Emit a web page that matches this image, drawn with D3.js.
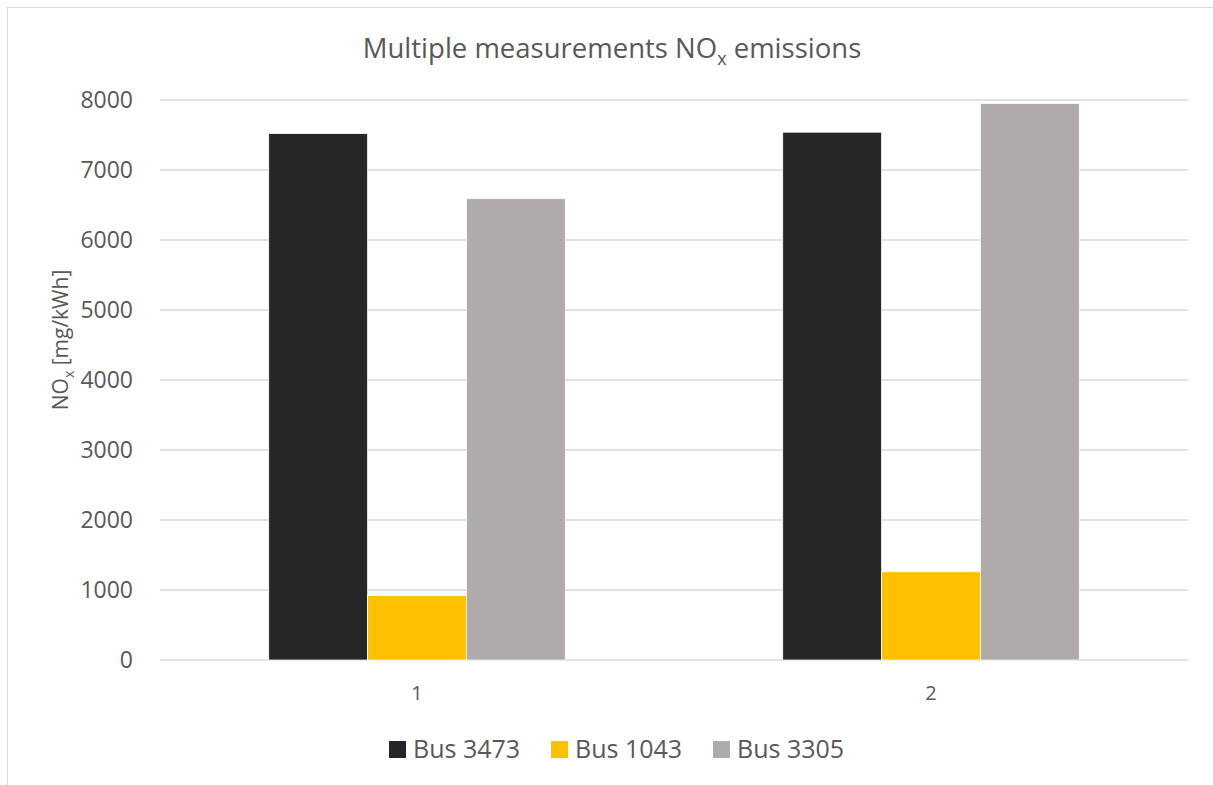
<!DOCTYPE html>
<html>
<head>
<meta charset="utf-8">
<script src="https://cdn.jsdelivr.net/npm/d3@7"></script>
<style>
  body { margin: 0; background: #fff; }
  svg text { font-family: "Open Sans", "DejaVu Sans", sans-serif; fill: #595959; }
</style>
</head>
<body>
<div id="chart"></div>
<script>
// data
const categories = ["1", "2"];
const seriesNames = ["Bus 3473", "Bus 1043", "Bus 3305"];
const seriesColors = ["#262626", "#ffc000", "#afabab"];
const bus3473 = [7520, 7540];
const bus1043 = [920, 1260];
const bus3305 = [6590, 7950];
const yTicks = [0, 1000, 2000, 3000, 4000, 5000, 6000, 7000, 8000];

const seriesValues = [bus3473, bus1043, bus3305];

const W = 1213, H = 785;
const margin = { top: 100, right: 25, bottom: 125, left: 160 };
const width = 1188 - margin.left;
const height = 660 - margin.top;

const svg = d3.select("#chart").append("svg")
    .attr("width", W)
    .attr("height", H);

// outer chart frame (runs off the right / bottom edge)
svg.append("rect")
    .attr("x", 7.5).attr("y", 7.5)
    .attr("width", W + 20).attr("height", H + 20)
    .attr("fill", "none")
    .attr("stroke", "#d9d9d9")
    .attr("stroke-width", 1);

const g = svg.append("g")
    .attr("transform", `translate(${margin.left},${margin.top})`);

const x0 = d3.scaleBand().domain(categories).range([0, width]);
// bars take about 297 of each 515 px band
const x1 = d3.scaleBand().domain(seriesNames).range([0, x0.bandwidth()]).paddingOuter(1.1);
const y = d3.scaleLinear().domain([0, 8000]).range([height, 0]);

// gridlines
g.append("g")
    .selectAll("line")
    .data(yTicks)
    .join("line")
    .attr("x1", 0).attr("x2", width)
    .attr("y1", d => y(d)).attr("y2", d => y(d))
    .attr("stroke", "#d9d9d9")
    .attr("stroke-width", 1.3);

// y tick labels
g.append("g")
    .selectAll("text")
    .data(yTicks)
    .join("text")
    .attr("x", -27)
    .attr("y", d => y(d))
    .attr("dy", "0.35em")
    .attr("text-anchor", "end")
    .style("font-size", "23px")
    .text(d => d);

// bars
const groups = g.selectAll(".cat")
    .data(categories)
    .join("g")
    .attr("class", "cat")
    .attr("transform", d => `translate(${x0(d)},0)`);

groups.selectAll("rect")
    .data((d, i) => seriesNames.map((s, j) => ({ s, j, v: seriesValues[j][i] })))
    .join("rect")
    .attr("x", d => x1(d.s))
    .attr("width", x1.bandwidth())
    .attr("y", d => y(d.v))
    .attr("height", d => y(0) - y(d.v))
    .attr("fill", d => seriesColors[d.j])
    .attr("stroke", "#ffffff")
    .attr("stroke-width", 0.75);

// category labels
g.append("g")
    .selectAll("text")
    .data(categories)
    .join("text")
    .attr("x", d => x0(d) + x0.bandwidth() / 2)
    .attr("y", height + 33)
    .attr("dy", "0.35em")
    .attr("text-anchor", "middle")
    .style("font-size", "20px")
    .text(d => d);

// title
const title = svg.append("text")
    .attr("x", 612)
    .attr("y", 58)
    .attr("text-anchor", "middle")
    .style("font-size", "27.5px");
title.append("tspan").text("Multiple measurements NO");
title.append("tspan").attr("dy", 7).style("font-size", "18px").text("x");
title.append("tspan").attr("dy", -7).text(" emissions");

// y axis title
const yTitle = svg.append("text")
    .attr("transform", "translate(68,340) rotate(-90)")
    .attr("text-anchor", "middle")
    .style("font-size", "21px");
yTitle.append("tspan").text("NO");
yTitle.append("tspan").attr("dy", 6).style("font-size", "14px").text("x");
yTitle.append("tspan").attr("dy", -6).text(" [mg/kWh]");

// legend
const legendX = [389, 551, 713];
const legend = svg.append("g")
    .selectAll("g")
    .data(seriesNames)
    .join("g")
    .attr("transform", (d, i) => `translate(${legendX[i]},749)`);

legend.append("rect")
    .attr("x", 0).attr("y", -8)
    .attr("width", 17).attr("height", 17)
    .attr("fill", (d, i) => seriesColors[i]);

legend.append("text")
    .attr("x", 24)
    .attr("y", 0)
    .attr("dy", "0.35em")
    .style("font-size", "25px")
    .text(d => d);
</script>
</body>
</html>
